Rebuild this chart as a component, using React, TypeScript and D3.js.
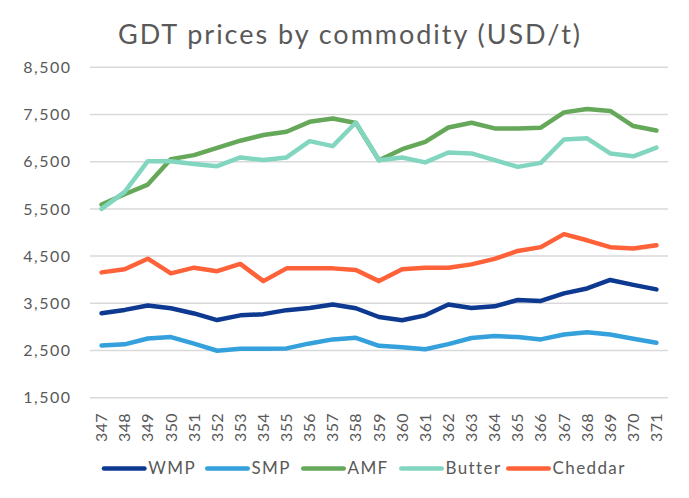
import React from "react";
import * as d3 from "d3";

const categories = ["347","348","349","350","351","352","353","354","355","356","357","358","359","360","361","362","363","364","365","366","367","368","369","370","371"];
const wmp = [3290, 3360, 3455, 3395, 3285, 3145, 3245, 3270, 3355, 3400, 3475, 3395, 3210, 3140, 3245, 3475, 3400, 3435, 3570, 3550, 3710, 3815, 3995, 3890, 3795];
const smp = [2605, 2630, 2755, 2785, 2645, 2495, 2535, 2535, 2545, 2650, 2735, 2770, 2600, 2570, 2525, 2635, 2765, 2805, 2785, 2735, 2840, 2885, 2840, 2750, 2665];
const amf = [5590, 5810, 6015, 6555, 6640, 6795, 6945, 7065, 7135, 7345, 7415, 7320, 6530, 6765, 6920, 7225, 7325, 7205, 7205, 7220, 7545, 7615, 7575, 7255, 7160];
const butter = [5500, 5860, 6510, 6510, 6450, 6405, 6590, 6535, 6590, 6935, 6830, 7330, 6530, 6590, 6485, 6695, 6675, 6535, 6390, 6475, 6970, 6995, 6675, 6615, 6800];
const cheddar = [4155, 4220, 4445, 4135, 4255, 4180, 4335, 3970, 4240, 4240, 4240, 4205, 3970, 4220, 4255, 4255, 4325, 4440, 4610, 4690, 4965, 4835, 4690, 4660, 4730];
const yTicks = [1500, 2500, 3500, 4500, 5500, 6500, 7500, 8500];
const seriesNames = ["WMP", "SMP", "AMF", "Butter", "Cheddar"];
const seriesValues = [wmp, smp, amf, butter, cheddar];
const seriesColors = ["#0D3990", "#34A1DC", "#66A85A", "#82D6C0", "#FF6138"];
const title = "GDT prices by commodity (USD/t)";

const W = 689, H = 498;
const font = "Lato, 'Open Sans', sans-serif";
const textColor = "#595959";
const legendX = [101.7, 205, 301, 399, 506];

export default function App() {
  const x = d3.scaleBand<string>().domain(categories).range([90, 668]);
  const y = d3.scaleLinear().domain([1500, 8500]).range([397.7, 67.3]);
  const fmt = d3.format(",");
  const cx = (c: string) => (x(c) as number) + x.bandwidth() / 2;
  const line = d3.line<number>().x((_, i) => cx(categories[i])).y((d) => y(d));

  return (
    <svg width={W} height={H} style={{ position: "fixed", left: 0, top: 0, background: "#fff" }} fontFamily={font}>
      <rect width={W} height={H} fill="#fff" />
      <text x={118} y={43.5} textAnchor="start" fontSize={27} fill={textColor} textLength={462} lengthAdjust="spacing">{title}</text>
      {yTicks.map((t) => (
        <g key={t}>
          <line x1={90} x2={668} y1={y(t)} y2={y(t)} stroke="#D9D9D9" strokeWidth={1.5} />
          <text x={71.5} y={y(t)} dy="0.35em" textAnchor="end" fontSize={16} letterSpacing={1.5} fill={textColor}>{fmt(t)}</text>
        </g>
      ))}
      {categories.map((c) => (
        <text key={c} transform={`translate(${cx(c)},413) rotate(-90)`} dy="0.35em" textAnchor="end" fontSize={16} letterSpacing={0.4} fill={textColor}>{c}</text>
      ))}
      {seriesValues.map((vals, k) => (
        <path key={seriesNames[k]} d={line(vals) || ""} fill="none" stroke={seriesColors[k]} strokeWidth={4.5} strokeLinejoin="round" strokeLinecap="round" />
      ))}
      {seriesNames.map((n, k) => (
        <g key={n} transform={`translate(${legendX[k]},0)`}>
          <line x1={2.25} x2={42.75} y1={468.5} y2={468.5} stroke={seriesColors[k]} strokeWidth={4.5} strokeLinecap="round" />
          <text x={46.5} y={473.5} fontSize={17} letterSpacing={1.4} fill={textColor}>{n}</text>
        </g>
      ))}
    </svg>
  );
}
